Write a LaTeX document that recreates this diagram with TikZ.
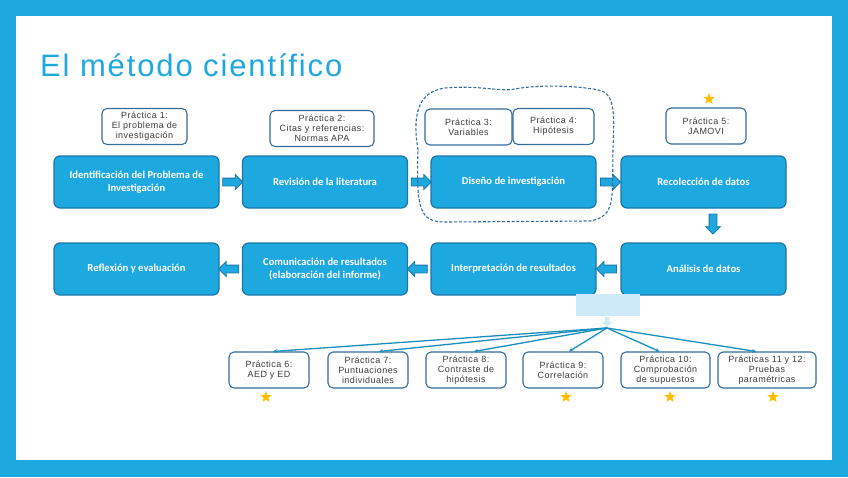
\documentclass[tikz,border=0pt]{standalone}
\usepackage{fontspec}
\setmainfont{Liberation Sans}
\newfontfamily\titlefont[LetterSpace=6]{Liberation Sans}
\newfontfamily\pracfont[LetterSpace=5]{Liberation Sans}
\newfontfamily\stepfont{Carlito}
\usepackage{xcolor}
\usepackage{tikz}
\usetikzlibrary{positioning, arrows.meta, shapes, calc}

\definecolor{framecol}{RGB}{30,168,224}
\definecolor{edgecol}{RGB}{28,118,168}
\definecolor{praccol}{RGB}{52,108,156}
\definecolor{textgray}{RGB}{60,60,60}
\definecolor{palecol}{RGB}{206,234,248}
\definecolor{goldcol}{RGB}{255,192,0}

\begin{document}
\begin{tikzpicture}[x=1pt, y=-1pt,
    mainbox/.style={draw=edgecol, fill=framecol, line width=1.2pt, rounded corners=6pt,
        minimum width=165pt, minimum height=52pt, align=center, text=white,
        font=\stepfont\bfseries\fontsize{10.6}{12.8}\selectfont},
    pracbox/.style={draw=praccol, fill=white, line width=1.1pt, rounded corners=5pt,
        minimum height=36pt, inner sep=1pt, align=center, text=textgray,
        font=\pracfont\fontsize{9}{10}\selectfont},
    blockarrow/.style={single arrow, draw=edgecol, fill=framecol, line width=0.8pt,
        minimum height=20pt, inner sep=3.5pt, single arrow head extend=3.5pt},
    fanline/.style={framecol!85!black, line width=1.3pt, -{Stealth[length=4pt, width=4pt]}},
    goldstar/.style={star, star points=5, star point ratio=2.3, fill=goldcol,
        minimum size=12pt, inner sep=0pt}]

    % Frame and title
    \useasboundingbox (0,0) rectangle (848,477);
    \fill[framecol] (0,0) rectangle (848,477);
    \fill[white] (16,16) rectangle (832,460);
    \node[anchor=base west, inner sep=0pt, text=framecol,
        font=\titlefont\fontsize{31}{36}\selectfont] (title) at (40,76) {El método científico};

    % Main steps, top row
    \node[mainbox] (ident) at (136.5,182) {Identificación del Problema de\\Investigación};
    \node[mainbox] (revis) at (325,182) {Revisión de la literatura};
    \node[mainbox] (disen) at (513.5,182) {Diseño de investigación};
    \node[mainbox] (recol) at (703.5,182) {Recolección de datos};

    % Main steps, bottom row
    \node[mainbox] (reflex) at (136.5,269) {Reflexión y evaluación};
    \node[mainbox] (comun) at (325,269) {Comunicación de resultados\\(elaboración del informe)};
    \node[mainbox] (interp) at (513.5,269) {Interpretación de resultados};
    \node[mainbox] (analis) at (703.5,269) {Análisis de datos};

    % Block arrows
    \node[blockarrow] (a1) at ($(ident.east)!0.5!(revis.west)$) {};
    \node[blockarrow] (a2) at ($(revis.east)!0.5!(disen.west)$) {};
    \node[blockarrow] (a3) at ($(disen.east)!0.5!(recol.west)$) {};
    \node[blockarrow, shape border rotate=270] (a4) at ($(recol.south)!0.4!(analis.north)+(9.5,0)$) {};
    \node[blockarrow, shape border rotate=180] (a5) at ($(analis.west)!0.5!(interp.east)$) {};
    \node[blockarrow, shape border rotate=180] (a6) at ($(interp.west)!0.5!(comun.east)$) {};
    \node[blockarrow, shape border rotate=180] (a7) at ($(comun.west)!0.5!(reflex.east)$) {};

    % Practices above the steps
    \node[pracbox, minimum width=85pt] (p1) at (144.5,126.5) {Práctica 1:\\El problema de\\investigación};
    \node[pracbox, minimum width=104pt] (p2) at (322,128.5) {Práctica 2:\\Citas y referencias:\\Normas APA};
    \node[pracbox, minimum width=87pt] (p3) at (468.5,127) {Práctica 3:\\Variables};
    \node[pracbox, minimum width=81pt] (p4) at (553.5,126.5) {Práctica 4:\\Hipótesis};
    \node[pracbox, minimum width=80pt] (p5) at (706,126) {Práctica 5:\\JAMOVI};

    % Dashed group round the design step
    \draw[praccol, line width=1.1pt, dash pattern=on 3pt off 1.8pt]
        (418,150) .. controls (413,120) and (415,92) .. (445,88)
        .. controls (480,85) and (500,92) .. (515,89)
        .. controls (540,84) and (585,86) .. (602,91)
        .. controls (616,97) and (614,120) .. (613,150)
        .. controls (612,200) and (616,216) .. (590,221)
        -- (445,222) .. controls (420,222) and (416,210) .. (418,150) -- cycle;

    % Analysis practices
    \node[fill=palecol, minimum width=64pt, minimum height=22pt, inner sep=0pt] (pale) at (608,305) {};
    \node[single arrow, shape border rotate=270, fill=palecol, minimum height=10pt,
        inner sep=2pt, single arrow head extend=3pt] (palearrow) at (607,321) {};
    \coordinate (fan) at (607,328);

    \node[pracbox, minimum width=80pt] (p6) at (269,370) {Práctica 6:\\AED y ED};
    \node[pracbox, minimum width=80pt] (p7) at (368,370) {Práctica 7:\\Puntuaciones\\individuales};
    \node[pracbox, minimum width=80pt] (p8) at (466,370) {Práctica 8:\\Contraste de\\hipótesis};
    \node[pracbox, minimum width=80pt] (p9) at (563,370) {Práctica 9:\\Correlación};
    \node[pracbox, minimum width=89pt] (p10) at (665.5,370) {Práctica 10:\\Comprobación\\de supuestos};
    \node[pracbox, minimum width=98pt] (p11) at (767,370) {Prácticas 11 y 12:\\Pruebas\\paramétricas};

    \foreach \p/\dx in {p6/4, p7/11, p8/8, p9/6, p10/-6, p11/-11}
        \draw[fanline] (fan) -- ([xshift=\dx pt]\p.north);

    % Stars
    \foreach \x/\y in {709/99, 266/397, 566/397, 670/397, 773/397}
        \node[goldstar] (star\x) at (\x,\y) {};
\end{tikzpicture}
\end{document}
